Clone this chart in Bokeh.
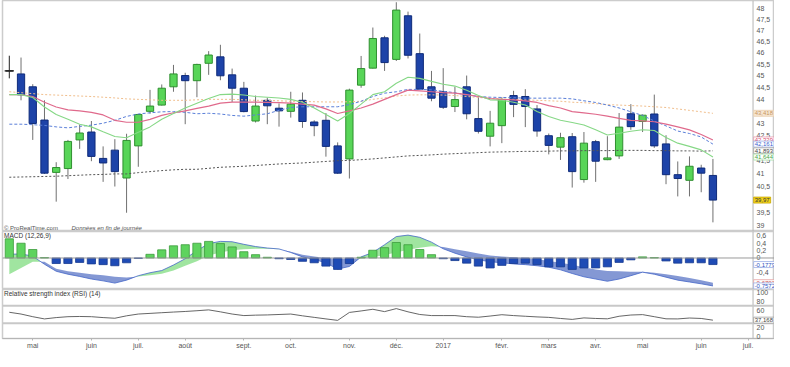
import numpy as np
from bokeh.plotting import figure
from bokeh.layouts import column
from bokeh.models import Range1d, FixedTicker, CustomJSTickFormatter, Label, Span
from bokeh.embed import file_html
from bokeh.resources import INLINE

# ---------------- data (weekly candles, Apr 2016 - Jun 2017) ----------------
opens = [45.21, 45.08, 44.53, 43.14, 41.04, 41.19, 42.33, 42.65, 41.59, 41.92,
         40.82, 42.09, 43.50, 43.76, 44.53, 45.01, 44.79, 45.54, 45.82, 45.04,
         44.47, 43.10, 43.96, 43.63, 43.50, 43.96, 43.06, 43.13, 42.09, 41.57,
         44.60, 45.33, 46.66, 45.71, 47.65, 45.96, 44.53, 44.32, 43.70, 44.53,
         43.20, 42.48, 42.91, 44.16, 44.12, 43.60, 42.50, 42.04, 42.46, 40.76,
         42.26, 41.54, 41.69, 43.40, 43.08, 43.39, 42.17, 40.95, 40.73, 41.21,
         40.92]
highs = [45.87, 45.79, 44.64, 43.96, 41.44, 42.33, 42.95, 43.10, 42.07, 42.36,
         42.58, 43.38, 44.40, 44.63, 45.47, 45.13, 45.52, 46.07, 46.35, 45.31,
         44.74, 44.16, 44.07, 43.83, 44.32, 44.29, 43.13, 43.43, 42.23, 44.45,
         45.86, 47.12, 46.75, 48.27, 47.84, 46.85, 45.21, 45.33, 44.53, 45.01,
         44.09, 43.52, 44.09, 44.36, 44.43, 43.76, 42.59, 42.62, 42.61, 42.65,
         42.33, 42.48, 43.43, 43.80, 43.37, 44.20, 42.52, 41.47, 41.67, 41.34,
         41.57]
lows = [44.89, 43.96, 42.33, 40.98, 39.91, 40.78, 41.97, 41.48, 40.67, 40.49,
        39.49, 41.26, 43.40, 43.74, 44.32, 42.97, 44.09, 45.04, 44.81, 43.89,
        43.46, 43.04, 42.97, 42.87, 43.24, 42.82, 42.48, 41.66, 40.98, 40.80,
        44.49, 45.31, 45.21, 45.64, 45.75, 44.40, 43.92, 43.60, 43.47, 43.17,
        42.59, 42.07, 42.20, 43.26, 42.85, 42.46, 41.75, 41.53, 40.45, 40.64,
        40.67, 41.52, 41.57, 42.74, 42.65, 42.01, 40.58, 40.11, 40.11, 40.27,
        39.13]
closes = [45.21, 44.19, 43.00, 41.01, 41.23, 42.27, 42.61, 41.67, 41.41, 41.07,
          42.31, 43.37, 43.72, 44.47, 45.08, 44.79, 45.49, 45.90, 45.00, 44.47,
          43.49, 43.72, 43.73, 43.52, 43.80, 43.08, 42.91, 42.07, 41.01, 44.39,
          45.31, 46.63, 45.57, 47.91, 45.89, 44.43, 44.05, 43.67, 43.99, 43.40,
          42.68, 43.01, 44.00, 43.79, 43.70, 42.69, 42.11, 42.42, 41.07, 42.20,
          41.48, 41.61, 42.85, 42.87, 43.34, 42.09, 40.95, 40.80, 41.28, 41.01,
          39.97]

ma_green = [44.20, 44.20, 44.08, 43.68, 43.37, 43.17, 42.97, 42.86, 42.66, 42.47,
            42.42, 42.64, 42.86, 43.17, 43.41, 43.64, 43.84, 44.04, 44.20, 44.22,
            44.18, 44.12, 44.09, 44.06, 44.00, 43.88, 43.64, 43.37, 43.10, 43.41,
            43.80, 44.20, 44.32, 44.68, 44.94, 44.89, 44.76, 44.64, 44.56, 44.38,
            44.16, 43.98, 43.96, 43.88, 43.76, 43.49, 43.29, 43.13, 43.04, 42.94,
            42.74, 42.53, 42.60, 42.68, 42.74, 42.71, 42.43, 42.20, 42.07, 41.93,
            41.644]
ma_red = [44.20, 44.20, 44.12, 43.88, 43.68, 43.56, 43.52, 43.46, 43.35, 43.13,
          43.05, 43.05, 43.17, 43.33, 43.44, 43.52, 43.62, 43.72, 43.84, 43.88,
          43.88, 43.88, 43.87, 43.86, 43.84, 43.80, 43.76, 43.60, 43.41, 43.52,
          43.64, 43.80, 44.00, 44.20, 44.39, 44.36, 44.32, 44.28, 44.26, 44.20,
          44.12, 44.03, 44.00, 43.98, 43.94, 43.87, 43.74, 43.64, 43.49, 43.44,
          43.38, 43.30, 43.21, 43.13, 43.11, 43.07, 42.97, 42.86, 42.74, 42.55,
          42.329]
ma_blue = [42.97, 42.97, 42.95, 42.92, 42.86, 42.82, 42.88, 42.93, 43.01, 43.13,
           43.29, 43.39, 43.44, 43.48, 43.49, 43.46, 43.40, 43.42, 43.39, 43.33,
           43.30, 43.35, 43.40, 43.54, 43.66, 43.69, 43.69, 43.69, 43.69, 43.78,
           43.92, 44.12, 44.26, 44.32, 44.42, 44.42, 44.40, 44.34, 44.28, 44.18,
           44.12, 44.09, 44.08, 44.07, 44.05, 44.05, 44.05, 44.05, 44.02, 43.94,
           43.87, 43.76, 43.64, 43.48, 43.33, 43.10, 42.90, 42.69, 42.59, 42.45,
           42.161]
ma_beige = [44.32, 44.28, 44.24, 44.20, 44.18, 44.16, 44.14, 44.12, 44.09, 44.06,
            44.02, 44.00, 43.98, 43.96, 43.96, 43.96, 43.98, 44.00, 44.00, 44.00,
            43.98, 43.96, 43.96, 43.94, 43.92, 43.91, 43.90, 43.89, 43.89, 43.90,
            43.92, 44.00, 44.06, 44.14, 44.18, 44.19, 44.19, 44.18, 44.16, 44.12,
            44.08, 44.04, 44.02, 44.00, 43.98, 43.96, 43.94, 43.92, 43.88, 43.86,
            43.82, 43.78, 43.76, 43.74, 43.72, 43.69, 43.66, 43.60, 43.54, 43.48,
            43.418]
ma_gray = [40.85, 40.86, 40.87, 40.88, 40.89, 40.91, 40.93, 40.95, 40.96, 40.98,
           40.98, 41.03, 41.07, 41.11, 41.14, 41.16, 41.16, 41.20, 41.24, 41.26,
           41.28, 41.31, 41.34, 41.37, 41.39, 41.41, 41.44, 41.47, 41.50, 41.51,
           41.54, 41.57, 41.61, 41.65, 41.69, 41.71, 41.73, 41.76, 41.78, 41.80,
           41.82, 41.84, 41.85, 41.86, 41.87, 41.87, 41.88, 41.89, 41.89, 41.90,
           41.90, 41.90, 41.91, 41.91, 41.91, 41.90, 41.90, 41.89, 41.89, 41.88,
           41.893]

macd_hist = [0.52, 0.40, 0.23, 0.01, -0.15, -0.15, -0.12, -0.16, -0.18, -0.21,
             -0.13, -0.01, 0.10, 0.22, 0.33, 0.36, 0.40, 0.45, 0.39, 0.30,
             0.17, 0.09, 0.02, -0.02, -0.04, -0.09, -0.13, -0.22, -0.31, -0.15,
             0.02, 0.21, 0.28, 0.42, 0.36, 0.23, 0.09, -0.02, -0.07, -0.14,
             -0.22, -0.27, -0.20, -0.15, -0.14, -0.18, -0.24, -0.24, -0.31, -0.27,
             -0.27, -0.24, -0.12, -0.05, 0.03, 0.01, -0.08, -0.14, -0.13, -0.13,
             -0.1779]
macd_line = [0.10, 0.11, 0.05, -0.17, -0.36, -0.44, -0.50, -0.57, -0.62, -0.68,
             -0.60, -0.48, -0.40, -0.34, -0.19, -0.02, 0.20, 0.39, 0.45, 0.44,
             0.37, 0.31, 0.27, 0.245, 0.15, 0.03, -0.04, -0.13, -0.30, -0.23,
             0.03, 0.15, 0.36, 0.58, 0.62, 0.56, 0.43, 0.25, 0.13, 0.03,
             -0.05, -0.10, -0.13, -0.16, -0.18, -0.21, -0.25, -0.32, -0.42, -0.51,
             -0.57, -0.63, -0.57, -0.48, -0.385, -0.44, -0.52, -0.60, -0.65, -0.70,
             -0.7572]
macd_signal = [-0.44, -0.27, -0.10, -0.10, -0.29, -0.36, -0.40, -0.44, -0.47, -0.51,
               -0.53, -0.50, -0.47, -0.43, -0.34, -0.21, -0.09, 0.07, 0.15, 0.21,
               0.24, 0.25, 0.25, 0.235, 0.17, 0.09, 0.04, 0.00, -0.02, -0.02,
               -0.01, 0.02, 0.08, 0.15, 0.22, 0.28, 0.32, 0.30, 0.24, 0.18,
               0.12, 0.07, 0.04, 0.02, 0.00, -0.03, -0.08, -0.13, -0.18, -0.25,
               -0.31, -0.35, -0.36, -0.37, -0.375, -0.40, -0.44, -0.49, -0.54, -0.60,
               -0.6702]
rsi = [55, 51, 45, 40, 43, 45, 45.5, 45, 43, 41.5,
       47, 51, 52.5, 54, 55.5, 56.8, 58.5, 60.4, 56, 51,
       47.5, 48.5, 49, 50, 51, 47, 43.5, 40, 36.7, 54.6,
       58, 61.8, 56.5, 63.3, 56, 50, 47.5, 47.5, 47.5, 45,
       43.8, 46.5, 49.5, 47.5, 46, 44.5, 43.5, 41, 38.9, 42.3,
       41, 40.2, 46, 48.8, 49.7, 45, 40.2, 40, 42, 41,
       37.168]

month_idx = [2, 7, 11, 15, 20, 24, 29, 33, 37, 42, 46, 50, 54, 59, 63]
month_lbl = ["mai", "juin", "juil.", "août", "sept.", "oct.", "nov.", "déc.", "2017",
             "févr.", "mars", "avr.", "mai", "juin", "juil."]
price_ticks = [48, 47.5, 47, 46.5, 46, 45.5, 45, 44.5, 44, 43, 42.5, 41.5, 41, 40.5, 39.5, 39]
macd_ticks = [0.6, 0.4, 0.2, 0, -0.4]
rsi_ticks = [100, 80, 60, 20, 0]

# ---------------- figures ----------------
FONT = "Liberation Sans"
FW = 772
AXIS_X = 63.42          # position of the price-scale line (data units)
n = len(closes)
x = np.arange(n)
o = np.array(opens); c = np.array(closes); hi = np.array(highs); lo = np.array(lows)
xr = Range1d(-0.58, 65.25)
comma = CustomJSTickFormatter(code="return tick.toString().replace('.', ',');")


def make_fig(h, yr, ytype, xloc, ticks):
    p = figure(frame_width=FW, frame_height=h, x_range=xr, y_range=yr, y_axis_type=ytype,
               y_axis_location="right", x_axis_location=xloc, output_backend="svg",
               toolbar_location=None, title=None, min_border_left=2, min_border_right=0,
               min_border_top=0, min_border_bottom=0)
    p.xgrid.visible = False
    p.ygrid.visible = False
    p.outline_line_color = "#cccccc"
    p.outline_line_width = 1.5
    ax = p.yaxis[0]
    ax.ticker = FixedTicker(ticks=ticks)
    ax.formatter = comma
    ax.axis_line_color = None
    ax.major_tick_line_color = None
    ax.major_tick_in = 0
    ax.major_tick_out = 0
    ax.minor_tick_line_color = None
    ax.major_label_text_font_size = "7px"
    ax.major_label_text_font = FONT
    ax.major_label_text_color = "#555555"
    ax.major_label_standoff = -18
    p.add_layout(Span(location=AXIS_X, dimension="height", line_color="#b5b5b5",
                      line_width=1))
    return p


def box(p, yv, text, tc, bg="white", bc=None):
    p.add_layout(Label(x=AXIS_X + 0.05, y=yv, text=text, text_font=FONT, text_font_size="6px",
                       text_color=tc, text_baseline="middle", text_align="left",
                       background_fill_color=bg, border_line_color=bc or tc,
                       border_line_width=0.8, padding=1))


def fmt(v, d):
    return f"{v:.{d}f}".replace(".", ",")


# ---- price panel ----
p1 = make_fig(231, Range1d(38.79, 48.35), "log", None, price_ticks)
up = c > o
dn = c < o
top = np.maximum(o, c)
bot = np.minimum(o, c)
fillc = np.where(up, "#58d558", np.where(dn, "#1d43a8", "#222222"))
linec = np.where(up, "#2f8f2f", np.where(dn, "#0f2b7a", "#222222"))
wickc = np.where(up | dn, "#707070", "#222222")
p1.segment(x0=x, y0=lo, x1=x, y1=hi, line_color=list(wickc), line_width=1)
p1.vbar(x=x, width=0.62, top=top, bottom=bot, fill_color=list(fillc),
        line_color=list(linec), line_width=1)
doji = ~(up | dn)
p1.segment(x0=x[doji] - 0.4, y0=c[doji], x1=x[doji] + 0.4, y1=c[doji],
           line_color="#222222", line_width=1.3)
p1.line(x, ma_gray, line_color="#555555", line_width=1, line_dash="2 2")
p1.line(x, ma_beige, line_color="#f0be8c", line_width=1, line_dash="2 2")
p1.line(x, ma_blue, line_color="#5a7fd8", line_width=1, line_dash="3 2")
p1.line(x, ma_red, line_color="#e06a8c", line_width=1.2)
p1.line(x, ma_green, line_color="#86d886", line_width=1.1)

p1.add_layout(Label(x=-0.45, y=38.80, text="© ProRealTime.com", text_font=FONT,
                    text_font_size="6px", text_color="#555555", text_baseline="bottom"))
p1.add_layout(Label(x=5.3, y=38.80, text="Données en fin de journée", text_font=FONT,
                    text_font_size="6px", text_font_style="italic", text_color="#555555",
                    text_baseline="bottom"))
box(p1, ma_beige[-1], fmt(ma_beige[-1], 3), "#c8965f", bg="#f6e6d2", bc="#e8cfae")
box(p1, ma_red[-1], fmt(ma_red[-1], 3), "#d9436a", bc="#e99ab0")
box(p1, ma_blue[-1], fmt(ma_blue[-1], 3), "#3a5fcf", bc="#9aaee6")
box(p1, ma_gray[-1], fmt(ma_gray[-1], 3), "#444444", bc="#a0a0a0")
box(p1, ma_green[-1], fmt(ma_green[-1], 3), "#45a845", bc="#a5dca5")
box(p1, closes[-1], fmt(closes[-1], 2), "#333333", bg="#f2d21b", bc="#c8a800")

# ---- MACD panel ----
p2 = make_fig(58, Range1d(-0.854, 0.718), "linear", None, macd_ticks)


def with_crossings(xv, a, b):
    X, A, B = [xv[0]], [a[0]], [b[0]]
    for k in range(1, len(xv)):
        d0 = a[k - 1] - b[k - 1]
        d1 = a[k] - b[k]
        if d0 * d1 < 0:
            t = d0 / (d0 - d1)
            X.append(xv[k - 1] + t * (xv[k] - xv[k - 1]))
            yc = a[k - 1] + t * (a[k] - a[k - 1])
            A.append(yc); B.append(yc)
        X.append(xv[k]); A.append(a[k]); B.append(b[k])
    return np.array(X), np.array(A), np.array(B)


cx, cm, cs = with_crossings(x.astype(float), macd_line, macd_signal)
upper = np.maximum(cm, cs)
p2.varea(x=cx, y1=cs, y2=upper, fill_color="#8fe08f", fill_alpha=0.85)
p2.varea(x=cx, y1=cm, y2=upper, fill_color="#6f86cc", fill_alpha=0.85)
p2.line(x, macd_line, line_color="#4466c8", line_width=0.8)
h = np.array(macd_hist)
hfill = np.where(h >= 0, "#5ed35e", "#1f4bb5")
hline = np.where(h >= 0, "#3c9c3c", "#163a90")
p2.vbar(x=x, width=0.7, top=np.maximum(h, 0), bottom=np.minimum(h, 0),
        fill_color=list(hfill), line_color=list(hline), line_width=0.8)
p2.add_layout(Span(location=0, dimension="width", line_color="#9a9a9a", line_width=1))
p2.add_layout(Label(x=-0.45, y=0.61, text="MACD (12,26,9)", text_font=FONT,
                    text_font_size="6.5px", text_color="#333333", text_baseline="middle"))
box(p2, macd_hist[-1], fmt(macd_hist[-1], 4), "#2f55c0", bc="#9aaee6")
box(p2, macd_signal[-1], fmt(macd_signal[-1], 4), "#d05050", bc="#e6a0a0")
box(p2, macd_line[-1], fmt(macd_line[-1], 4), "#2f55c0", bc="#9aaee6")

# ---- RSI panel ----
p3 = make_fig(49, Range1d(-4.3, 106.5), "linear", "below", rsi_ticks)
p3.add_layout(Span(location=70, dimension="width", line_color="#c8c8c8", line_width=2))
p3.add_layout(Span(location=30, dimension="width", line_color="#c8c8c8", line_width=2))
p3.line(x, rsi, line_color="#555555", line_width=0.9)
p3.add_layout(Label(x=-0.45, y=97, text="Relative strength index (RSI) (14)", text_font=FONT,
                    text_font_size="6.5px", text_color="#333333", text_baseline="middle"))
box(p3, rsi[-1], fmt(rsi[-1], 3), "#444444", bc="#a0a0a0")

xa = p3.xaxis[0]
xa.ticker = FixedTicker(ticks=month_idx)
xa.major_label_overrides = {k: v for k, v in zip(month_idx, month_lbl)}
xa.axis_line_color = "#b5b5b5"
xa.major_tick_line_color = "#b5b5b5"
xa.major_tick_in = 0
xa.major_tick_out = 2
xa.minor_tick_line_color = None
xa.major_label_text_font_size = "7px"
xa.major_label_text_font = FONT
xa.major_label_text_color = "#555555"
xa.major_label_standoff = 1

layout = column(p1, p2, p3)
open("out.html", "w", encoding="utf-8").write(file_html(layout, INLINE))
